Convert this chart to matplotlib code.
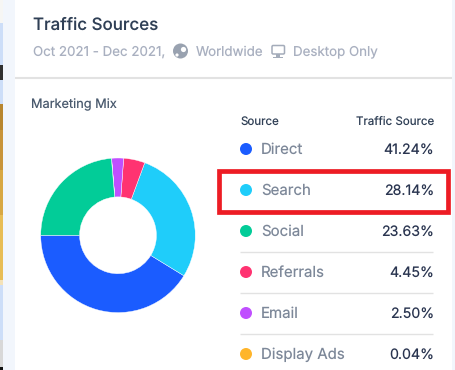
import matplotlib
matplotlib.use("Agg")
import matplotlib.pyplot as plt
from matplotlib.patches import Rectangle, Circle, FancyBboxPatch

# ---- data (table order) ----
sources = ["Direct", "Search", "Social", "Referrals", "Email", "Display Ads"]
shares = [41.24, 28.14, 23.63, 4.45, 2.50, 0.04]
colors = ["#1b5cff", "#1fcdfa", "#02cc98", "#ff3371", "#c04fff", "#ffb52b"]
# order of the slices around the ring
pie_order = [0, 1, 3, 4, 5, 2]

W, H = 456, 370
plt.rcParams["font.family"] = ["Inter", "DejaVu Sans"]
plt.rcParams["text.hinting"] = "none"
plt.rcParams["text.hinting_factor"] = 1
fig = plt.figure(figsize=(W / 100, H / 100), dpi=100, facecolor="white")

bg = fig.add_axes([0, 0, 1, 1], zorder=0)
bg.set_xlim(0, W); bg.set_ylim(H, 0); bg.axis("off")

# page background around the card
bg.add_patch(Rectangle((3, 0), 12, H, fc="#f2f6fc", ec="none"))
bg.add_patch(Rectangle((452, 0), 4, H, fc="#f2f6fc", ec="none"))
for y0, y1, c in [(0, 23, "#f6f6f4"), (23, 104, "#cddef8"), (65, 80, "#303030"),
                  (104, 130, "#b8862f"), (130, 170, "#c8943a"), (170, 215, "#d8a843"),
                  (215, 280, "#e8bd55"), (280, 285, "#f4e2b8"), (285, 340, "#cddef8"),
                  (340, 367, "#d8d8d8"), (367, 370, "#111111")]:
    bg.add_patch(Rectangle((0, y0), 3, y1 - y0, fc=c, ec="none"))

# header
bg.text(33, 25, "Traffic Sources", fontsize=12.2, color="#2f3f55", va="center", fontweight="medium")
sub = "#a9b0c0"
bg.text(33, 52, "Oct 2021 - Dec 2021,", fontsize=9.6, color=sub, va="center")
bg.text(196, 52, "Worldwide", fontsize=9.6, color=sub, va="center")
bg.text(293, 52, "Desktop Only", fontsize=9.6, color=sub, va="center")

# globe icon
bg.add_patch(Circle((180.5, 51), 7.5, fc="#99a2b0", ec="none"))
bg.add_patch(Circle((183.5, 49.5), 2.6, fc="white", ec="none"))
bg.add_patch(Circle((177, 55), 1.6, fc="white", ec="none"))
# monitor icon
bg.add_patch(FancyBboxPatch((272, 45.5), 12.5, 8.5, boxstyle="round,pad=0,rounding_size=1.2",
                            fc="white", ec="#a4acba", lw=1.1))
bg.add_patch(Rectangle((276.5, 54), 3.5, 3, fc="#a4acba", ec="none"))
bg.add_patch(Rectangle((273.5, 57), 9.5, 1.2, fc="#a4acba", ec="none"))

bg.plot([15, 452], [78, 78], color="#e2e2e2", lw=1.5, solid_capstyle="butt")
bg.text(31, 105, "Marketing Mix", fontsize=9.2, color="#4a5a6e", va="center")
bg.text(241, 122, "Source", fontsize=8.3, color="#2f3f55", va="center")
bg.text(434, 122, "Traffic Source", fontsize=8.3, color="#2f3f55", va="center", ha="right")

# table rows
row0, step = 149, 41
for i, (name, val, c) in enumerate(zip(sources, shares, colors)):
    y = row0 + i * step
    bg.add_patch(Circle((246, y), 6, fc=c, ec="none"))
    bg.text(261, y + 1, name, fontsize=10.8, color="#7d8899", va="center")
    bg.text(434, y + 1, f"{val:.2f}%", fontsize=10.2, color="#2a3550", va="center", ha="right")
    if i < len(sources) - 1:
        bg.plot([240, 433], [y + 20.5, y + 20.5], color="#e2e2e2", lw=1, solid_capstyle="butt")

# red highlight box
bg.add_patch(Rectangle((219.5, 170.5), 228.5, 41, fc="none", ec="#ed1c24", lw=3.4, zorder=5))

# donut
cx, cy, R = 118, 235.3, 77.3
pad = 1.1
ax = fig.add_axes([(cx - R * pad) / W, 1 - (cy + R * pad) / H, 2 * R * pad / W, 2 * R * pad / H],
                  zorder=2)
ax.pie([shares[i] for i in pie_order], colors=[colors[i] for i in pie_order],
       startangle=180, counterclock=True, radius=1,
       wedgeprops=dict(width=0.503, edgecolor="white", linewidth=0.3))
ax.set_xlim(-pad, pad); ax.set_ylim(-pad, pad)
ax.patch.set_alpha(0)

fig.savefig("out.png", dpi=100)
